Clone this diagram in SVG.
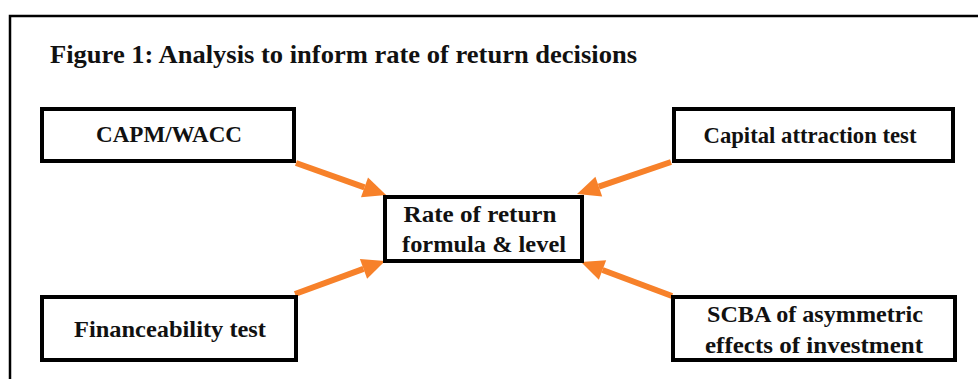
<svg xmlns="http://www.w3.org/2000/svg" width="978" height="379" viewBox="0 0 978 379">
  <defs>
    <marker id="arrowhead" markerUnits="userSpaceOnUse" markerWidth="23" markerHeight="21" refX="0" refY="10.5" orient="auto" overflow="visible">
      <path d="M0,0 L23,10.5 L0,21 Z" fill="#F7812A"/>
    </marker>
    <style>
      .frame { fill: none; stroke: #000; stroke-width: 2.5; }
      .box { fill: #fff; stroke: #000; stroke-width: 4; }
      .label { font-family: "Liberation Serif", "DejaVu Serif", serif; font-weight: bold; font-size: 24px; fill: #111; text-anchor: middle; }
      .title { font-family: "Liberation Serif", "DejaVu Serif", serif; font-weight: bold; font-size: 26px; fill: #111; }
      .conn { stroke: #F7812A; stroke-width: 6; fill: none; marker-end: url(#arrowhead); }
    </style>
  </defs>

  <rect width="978" height="379" fill="#fff"/>

  <!-- page frame: left and top rules -->
  <path class="frame" d="M10,379 V16 H978"/>

  <text class="title" x="50" y="63" textLength="587" lengthAdjust="spacingAndGlyphs">Figure 1: Analysis to inform rate of return decisions</text>

  <!-- connectors into the central node -->
  <g id="connectors">
    <line class="conn" x1="296" y1="163" x2="364.5" y2="187.3"/>
    <line class="conn" x1="671" y1="162" x2="598.8" y2="186.6"/>
    <line class="conn" x1="295" y1="294" x2="363.5" y2="268.9"/>
    <line class="conn" x1="672" y1="296" x2="602.5" y2="270"/>
  </g>

  <g id="capm-wacc">
    <rect class="box" x="42" y="109" width="252" height="52"/>
    <text class="label" x="169" y="142" textLength="146" lengthAdjust="spacingAndGlyphs">CAPM/WACC</text>
  </g>

  <g id="capital-attraction">
    <rect class="box" x="674" y="109" width="279" height="52"/>
    <text class="label" x="810" y="143" textLength="213" lengthAdjust="spacingAndGlyphs">Capital attraction test</text>
  </g>

  <g id="rate-of-return">
    <rect class="box" x="385" y="197" width="197" height="64"/>
    <text class="label" x="480" y="222" textLength="153" lengthAdjust="spacingAndGlyphs">Rate of return</text>
    <text class="label" x="484" y="252" textLength="164" lengthAdjust="spacingAndGlyphs">formula &amp; level</text>
  </g>

  <g id="financeability">
    <rect class="box" x="42" y="297" width="254" height="63"/>
    <text class="label" x="170" y="337" textLength="192" lengthAdjust="spacingAndGlyphs">Financeability test</text>
  </g>

  <g id="scba">
    <rect class="box" x="673" y="297" width="282" height="63"/>
    <text class="label" x="815" y="322" textLength="216" lengthAdjust="spacingAndGlyphs">SCBA of asymmetric</text>
    <text class="label" x="814" y="353" textLength="218" lengthAdjust="spacingAndGlyphs">effects of investment</text>
  </g>
</svg>
